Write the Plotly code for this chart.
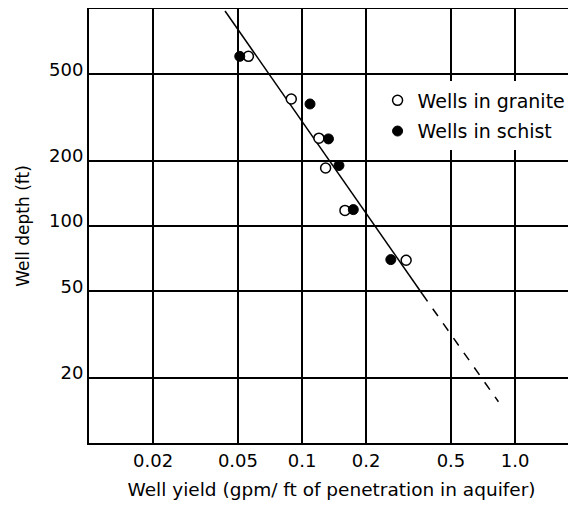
import plotly.graph_objects as go
import math

# Data
granite_x = [0.056, 0.089, 0.120, 0.129, 0.159, 0.308]
granite_y = [605, 385, 254, 185, 118, 69.5]
schist_x = [0.051, 0.109, 0.133, 0.149, 0.174, 0.261]
schist_y = [605, 365, 252, 190, 119, 70]

trend_x = [0.0435, 0.367]
trend_y = [979, 48.6]
extrap_x = [0.367, 0.835]
extrap_y = [48.6, 15.5]

x_tickvals = [0.02, 0.05, 0.1, 0.2, 0.5, 1.0]
x_ticktext = ["0.02", "0.05", "0.1", "0.2", "0.5", "1.0"]
y_tickvals = [20, 50, 100, 200, 500]
y_ticktext = ["20", "50", "100", "200", "500"]

FONT = "DejaVu Sans"

fig = go.Figure()
fig.add_trace(go.Scatter(x=trend_x, y=trend_y, mode="lines",
                         line=dict(color="black", width=1.5), showlegend=False))
fig.add_trace(go.Scatter(x=extrap_x, y=extrap_y, mode="lines",
                         line=dict(color="black", width=1.5, dash="dash"), showlegend=False))
fig.add_trace(go.Scatter(x=granite_x, y=granite_y, mode="markers", name="Wells in granite",
                         legendgroup="g",
                         marker=dict(symbol="circle", size=10, color="white",
                                     line=dict(color="black", width=1.5))))
fig.add_trace(go.Scatter(x=schist_x, y=schist_y, mode="markers", name="Wells in schist",
                         legendgroup="s",
                         marker=dict(symbol="circle", size=10, color="black",
                                     line=dict(color="black", width=1))))

# page body has an 8px margin: figure is sized/offset to compensate
fig.update_layout(
    width=568, height=497,
    margin=dict(l=81, r=2, t=1, b=62),
    paper_bgcolor="white", plot_bgcolor="white",
    font=dict(family=FONT, size=17, color="black"),
    legend=dict(x=0.595, y=0.833, xanchor="left", yanchor="top",
                bgcolor="white", borderwidth=0, tracegroupgap=3,
                font=dict(family=FONT, size=19, color="black")),
)
fig.update_xaxes(type="log", range=[-2, math.log10(1.89)], automargin=False,
                 tickvals=x_tickvals, ticktext=x_ticktext,
                 showgrid=True, gridcolor="black", gridwidth=1.5,
                 showline=True, linecolor="black", linewidth=2, mirror=True,
                 ticks="", zeroline=False, ticklabelstandoff=0,
                 tickfont=dict(family=FONT, size=18),
                 title=dict(text="Well yield (gpm/ ft of penetration in aquifer)",
                            font=dict(family=FONT, size=18.5), standoff=13))
fig.update_yaxes(type="log", range=[1, 3], automargin=False,
                 tickvals=y_tickvals, ticktext=y_ticktext,
                 showgrid=True, gridcolor="black", gridwidth=1.5,
                 showline=True, linecolor="black", linewidth=2, mirror=False,
                 ticks="", zeroline=False, ticklabelshift=-5, ticklabelstandoff=0,
                 tickfont=dict(family=FONT, size=18),
                 title=dict(text="Well depth (ft)", font=dict(family=FONT, size=17), standoff=15))
fig.add_shape(type="line", xref="paper", yref="paper", x0=1, x1=1, y0=0, y1=1,
              line=dict(color="#777777", width=1, dash="dot"))

fig.write_html("out.html")
